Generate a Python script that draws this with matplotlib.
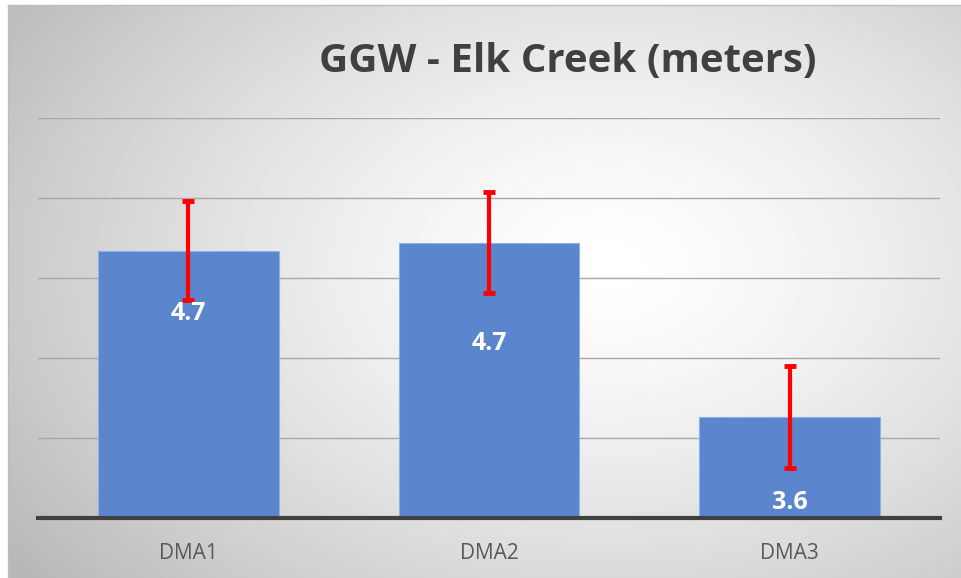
import numpy as np
import matplotlib
matplotlib.use("Agg")
import matplotlib.pyplot as plt

categories = ["DMA1", "DMA2", "DMA3"]
values = [4.67, 4.72, 3.63]
errors = [0.31, 0.315, 0.32]
label_texts = ["4.7", "4.7", "3.6"]
label_y = [4.28, 4.09, 3.10]

W, H = 961, 578
fig = plt.figure(figsize=(W / 100, H / 100), dpi=100)
fig.patch.set_facecolor("white")

# radial grey-to-white background like the office chart style
bg = fig.add_axes([8 / W, 0, (W - 8) / W, (H - 5) / H])
yy, xx = np.mgrid[0:573, 0:953]
cx, cy = 600, 260
d = np.sqrt(((xx - cx) / 620.0) ** 2 + ((yy - cy) / 420.0) ** 2)
shade = 1.0 - 0.22 * np.clip(d, 0, 1.2) ** 1.4
bg.imshow(shade, cmap="gray", vmin=0, vmax=1, aspect="auto", interpolation="bilinear")
bg.axis("off")
fig.add_artist(plt.Line2D([8 / W, 8 / W], [0, (H - 5) / H], color="#BDBDBD", lw=1))
fig.add_artist(plt.Line2D([8 / W, 1], [(H - 5) / H, (H - 5) / H], color="#BDBDBD", lw=1))

ax = fig.add_axes([38 / W, 1 - 518 / H, (940 - 38) / W, (518 - 118) / H])
ax.set_facecolor("none")

x = np.arange(len(categories))
ax.bar(x, values, width=0.6, bottom=0, color="#5B86CE", edgecolor="#8FB0E3",
       linewidth=0.8, zorder=3)
ax.errorbar(x, values, yerr=errors, fmt="none", ecolor="#FF0000", elinewidth=3,
            capsize=4.5, capthick=3.5, zorder=4)

for xi, yi, t in zip(x, label_y, label_texts):
    ax.text(xi, yi, t, ha="center", va="center", color="white", fontsize=18,
            fontweight="bold", family="Open Sans", zorder=5)

ax.set_xlim(-0.5, 2.5)
ax.set_ylim(3.0, 5.5)
ax.set_yticks([3.5, 4.0, 4.5, 5.0, 5.5])
ax.yaxis.grid(True, color="#A8A8A8", linewidth=1, zorder=0)
ax.set_yticklabels([])
ax.tick_params(axis="y", length=0)
ax.set_xticks(x)
ax.set_xticklabels(categories, fontsize=15, color="#595959", family="Open Sans")
ax.tick_params(axis="x", length=0, pad=18)
for s in ["top", "right", "left"]:
    ax.spines[s].set_visible(False)
ax.spines["bottom"].set_color("#404040")
ax.spines["bottom"].set_linewidth(3)
ax.spines["bottom"].set_zorder(6)

fig.text(568 / W, 1 - 61 / H, "GGW - Elk Creek (meters)", ha="center", va="center",
         fontsize=29, fontweight="bold", color="#404040", family="Open Sans")

fig.savefig("out.png", dpi=100)
